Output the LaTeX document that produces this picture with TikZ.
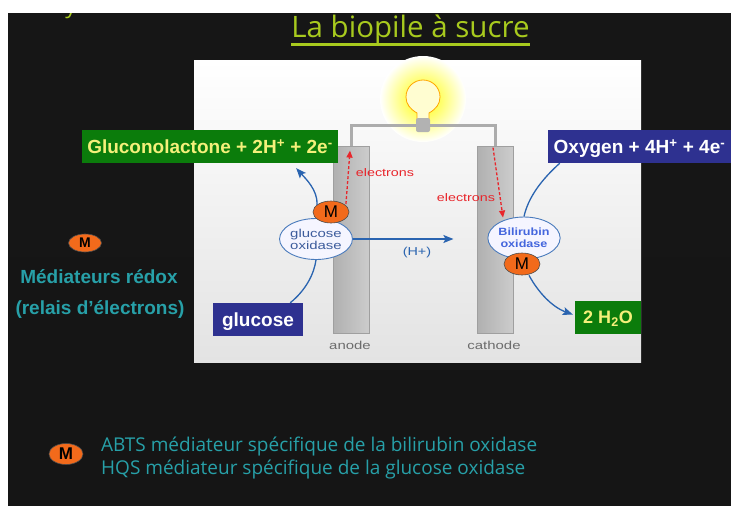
\documentclass[tikz,border=0pt]{standalone}
\usepackage{fontspec}
\setmainfont{Liberation Sans}
\newfontfamily\handfont{Open Sans}
\usetikzlibrary{arrows.meta,shapes.geometric,calc}

\definecolor{slidetop}{HTML}{161616}
\definecolor{slidemid}{HTML}{2A2A2A}
\definecolor{slidebot}{HTML}{151515}
\definecolor{titlegreen}{HTML}{A8CA1E}
\definecolor{boxgreen}{HTML}{0B7C0B}
\definecolor{boxnavy}{HTML}{2E3190}
\definecolor{boxyellow}{HTML}{F4F07A}
\definecolor{teal}{HTML}{27A0A8}
\definecolor{flowblue}{HTML}{2A64B0}
\definecolor{enzblue}{HTML}{3D5C9C}
\definecolor{bilblue}{HTML}{4466DD}
\definecolor{ered}{HTML}{E8262C}
\definecolor{medorange}{HTML}{F26A1B}

% labels inside the cell are set wide
\newcommand{\widetext}[2][1.3]{\scalebox{#1}[1]{#2}}

\tikzset{
  species/.style={inner sep=0pt, anchor=center, text depth=0pt},
  greenbox/.style={species, fill=boxgreen, text=boxyellow, font=\bfseries\fontsize{19}{20}\selectfont},
  navybox/.style={species, fill=boxnavy, text=white, font=\bfseries\fontsize{19}{20}\selectfont},
  electrode/.style={draw=gray!75, line width=0.8pt, left color=gray!62, right color=gray!40, minimum width=36pt, minimum height=187pt, inner sep=0pt},
  enzyme/.style={ellipse, draw=flowblue!85, line width=0.9pt, fill=blue!4, inner sep=0pt, minimum width=64pt, minimum height=41pt, align=center, font=\fontsize{11.5}{12}\selectfont},
  mediator/.style={ellipse, draw=black!70, line width=0.6pt, fill=medorange, inner sep=0pt, minimum width=36pt, minimum height=22pt, font=\fontsize{17}{17}\selectfont},
  flow/.style={flowblue, line width=1.3pt},
  flowarrow/.style={flow, -{Stealth[length=10pt,width=8pt,inset=2pt]}},
  electronflow/.style={ered, line width=1.3pt, dash pattern=on 3pt off 2pt, -{Triangle[length=7pt,width=6pt]}},
  elabel/.style={ered, font=\fontsize{11}{11}\selectfont},
  cellname/.style={gray!85!black, font=\fontsize{11.5}{11.5}\selectfont},
  legendtext/.style={teal, font=\bfseries\fontsize{19}{19}\selectfont},
}

\begin{document}
\begin{tikzpicture}[x=1pt,y=-1pt]
\useasboundingbox (0,0) rectangle (731,507);
\fill[white] (0,0) rectangle (731,507);

% slide background
\shade[top color=slidetop, middle color=slidemid, bottom color=slidebot] (8,13) rectangle (731,505);

% stray glyph of a line above the slide, clipped by the margin
\node[titlegreen, font=\handfont\fontsize{22}{22}\selectfont, anchor=base] (stray) at (71,13) {y};
\fill[white] (0,0) rectangle (731,13);

% title
\node[titlegreen, font=\handfont\fontsize{29.5}{29.5}\selectfont, anchor=base] (title) at (410.5,37) {La biopile à sucre};
\draw[titlegreen, line width=2.6pt] (291,44.5) -- (530,44.5);

% cell panel
\shade[top color=white, bottom color=gray!22] (194,60) rectangle (641,362);

% lamp glow
\shade[inner color=yellow, outer color=white] (423,99) circle (43);

% electrodes
\node[electrode] (anode) at (351,239.5) {};
\node[electrode] (cathode) at (495,239.5) {};
\node[cellname] (anodelbl) at (350,345) {\widetext{anode}};
\node[cellname] (cathodelbl) at (494,345) {\widetext{cathode}};

% external circuit
\coordinate (wiretop) at (423,125);
\draw[gray!65, line width=3pt] (anode.north) |- (wiretop) -| (cathode.north);

% lamp
\draw[orange!70!yellow, line width=0.8pt, fill=yellow!18]
  (417,120) -- (417,113) .. controls (410,109) and (406,104) .. (406,97)
  .. controls (406,87) and (414,80) .. (423,80)
  .. controls (432,80) and (440,87) .. (440,97)
  .. controls (440,104) and (436,109) .. (429,113) -- (429,120) -- cycle;
\fill[gray!60, rounded corners=2pt] (416,118) rectangle (430,132);
\node[inner sep=0pt, minimum size=0pt] (lamp) at (423,100) {};

% species boxes
\node[greenbox, minimum width=256pt, minimum height=33pt] (glc) at (210,146.5) {Gluconolactone + 2H\textsuperscript{+} + 2e\textsuperscript{-}};
\node[navybox, minimum width=183pt, minimum height=33pt] (oxy) at (639.5,146.5) {Oxygen + 4H\textsuperscript{+} + 4e\textsuperscript{-}};
\node[navybox, minimum width=90pt, minimum height=33pt] (glucose) at (258,319.5) {glucose};
\node[greenbox, font=\bfseries\fontsize{18}{19}\selectfont, minimum width=66pt, minimum height=33pt] (h2o) at (608,317.5) {2 H\textsubscript{2}O};

% enzymes and mediators
\node[enzyme, text=enzblue] (gox) at (316,239) {\widetext{glucose}\\\widetext{oxidase}};
\node[enzyme, text=bilblue, font=\bfseries\fontsize{10.5}{12}\selectfont, minimum width=62pt, minimum height=42pt] (bil) at (524,238) {\widetext[1.2]{Bilirubin}\\\widetext[1.2]{oxidase}};
\node[mediator] (mA) at (331,212) {M};
\node[mediator] (mC) at (522,264) {M};

% reaction flows
\draw[flow] ($(glucose.north east)+(-13,0)$) .. controls (306,290) and (314,274) .. (gox.south);
\draw[flowarrow] ($(mA.north west)+(-1,1)$) .. controls (318,190) and (305,178) .. ($(glc.south east)+(-42,5)$);
\draw[flowarrow] (gox.east) -- ($(bil.west)+(-34,1)$);
\node[flowblue, font=\fontsize{11.5}{11.5}\selectfont] (hplus) at (417,253) {\widetext[1.25]{(H+)}};
\draw[flow] ($(oxy.south west)+(12,0)$) .. controls (541,180) and (528,198) .. (bil.north);
\draw[flowarrow] ($(mC.south)+(7,0)$) .. controls (538,292) and (552,307) .. ($(h2o.west)+(-2,-3)$);

% electron transfer
\draw[electronflow] ($(mA.north east)+(2,0)$) -- ($(anode.north)+(-1,5)$);
\node[elabel] (eA) at (385,173) {\widetext{electrons}};
\draw[electronflow] ($(cathode.north)+(-2,2)$) -- ($(bil.north)+(-21,1)$);
\node[elabel] (eC) at (466,198) {\widetext{electrons}};

% redox mediator legend
\node[mediator, minimum width=33pt, minimum height=18pt, font=\bfseries\fontsize{14}{14}\selectfont] (mleg) at (85,243) {M};
\node[legendtext] (leg1) at (99,277) {Médiateurs rédox};
\node[legendtext] (leg2) at (100,309) {(relais d’électrons)};

% mediator notes
\node[mediator, minimum width=34pt, minimum height=21pt, font=\bfseries\fontsize{17}{17}\selectfont] (mnote) at (66,454) {M};
\node[teal, font=\handfont\fontsize{19}{23}\selectfont, anchor=north west, align=left, inner sep=0pt] (notes) at (101,437)
  {ABTS médiateur spécifique de la bilirubin oxidase\\HQS médiateur spécifique de la glucose oxidase};
\end{tikzpicture}
\end{document}
